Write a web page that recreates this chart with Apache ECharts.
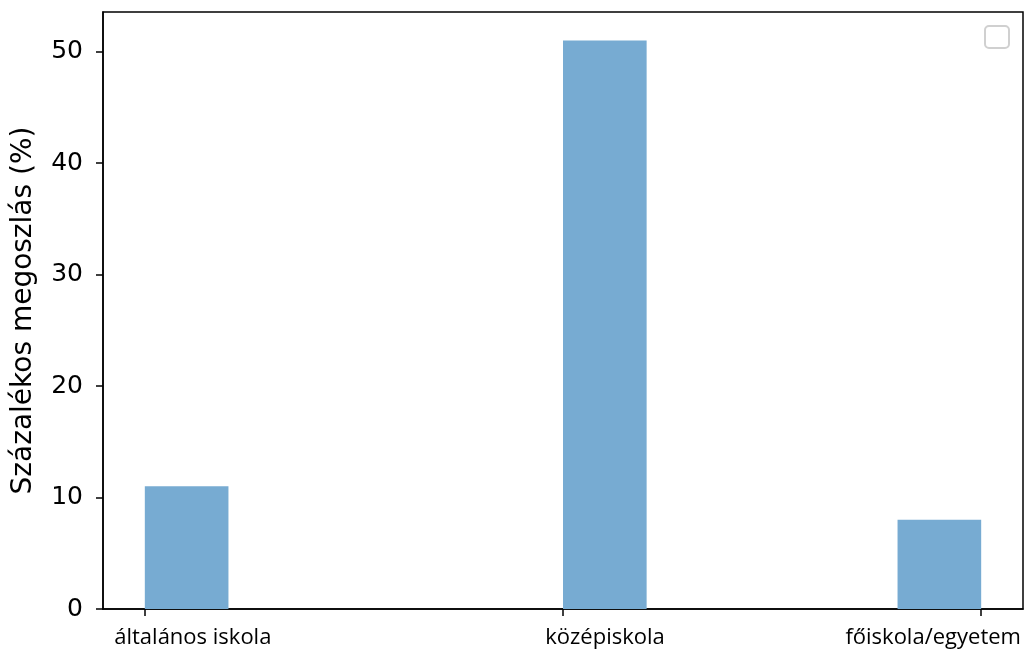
<!DOCTYPE html>
<html><head><meta charset="utf-8">
<script src="https://cdn.jsdelivr.net/npm/echarts@6/dist/echarts.min.js"></script>
<style>html,body{margin:0;padding:0;background:#fff}#c{width:1029px;height:654px}</style>
</head><body><div id="c"></div>
<script>
const categories = ['általános iskola', 'középiskola', 'főiskola/egyetem'];
const values = [11, 51, 8];
const barStart = [0, 1, 1.8];
const barEnd = [0.2, 1.2, 2.0];
const tickPositions = [0, 1, 2];
const yTicks = [0, 10, 20, 30, 40, 50];
const yTitle = 'Százalékos megoszlás (%)';

const labelShift = [96, 84, -96];
const rich = {};
categories.forEach((c, i) => {
  const s = labelShift[i];
  rich['l' + i] = { padding: s >= 0 ? [0, 0, 0, s] : [0, -s, 0, 0], fontFamily: 'Open Sans', fontSize: 22, color: '#000' };
});

const chart = echarts.init(document.getElementById('c'), null, { renderer: 'canvas' });
chart.setOption({
  animation: false,
  grid: { left: 103, right: 6, top: 12, bottom: 45, show: true, borderColor: '#000', borderWidth: 1.5, outerBoundsMode: 'none', containLabel: false },
  xAxis: {
    type: 'value', min: -0.1, max: 2.1,
    splitLine: { show: false },
    axisLine: { show: true, onZero: false, lineStyle: { color: '#000', width: 1.5 } },
    axisTick: { show: true, length: 7, lineStyle: { color: '#000', width: 1.5 }, customValues: tickPositions },
    axisLabel: {
      customValues: tickPositions, margin: 18,
      formatter: (v) => { const i = tickPositions.indexOf(Math.round(v)); return '{l' + i + '|' + categories[i] + '}'; },
      rich: rich
    }
  },
  yAxis: {
    type: 'value', min: 0, max: 53.55,
    name: yTitle, nameLocation: 'middle', nameGap: 65,
    nameTextStyle: { fontFamily: 'DejaVu Sans', fontSize: 28, color: '#000' },
    splitLine: { show: false },
    axisLine: { show: true, onZero: false, lineStyle: { color: '#000', width: 1.5 } },
    axisTick: { show: true, length: 7, lineStyle: { color: '#000', width: 1.5 }, customValues: yTicks },
    axisLabel: { customValues: yTicks, margin: 20, fontFamily: 'DejaVu Sans', fontSize: 25, color: '#000' }
  },
  graphic: [{
    type: 'rect', right: 19, top: 25,
    shape: { width: 24, height: 22, r: 4 },
    style: { fill: '#fff', stroke: '#d0d0d0', lineWidth: 2 }
  }],
  series: [{
    type: 'custom',
    data: values.map((v, i) => [barStart[i], barEnd[i], v]),
    encode: { x: [0, 1], y: 2 },
    renderItem: (params, api) => {
      const p0 = api.coord([api.value(0), api.value(2)]);
      const p1 = api.coord([api.value(1), 0]);
      return { type: 'rect', shape: { x: p0[0], y: p0[1], width: p1[0] - p0[0], height: p1[1] - p0[1] }, style: { fill: '#77abd2' } };
    }
  }]
});
</script></body></html>
